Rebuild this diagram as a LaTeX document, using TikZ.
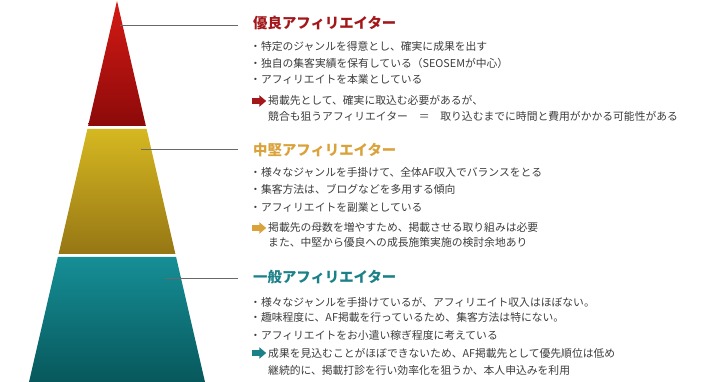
\documentclass[tikz,border=0pt]{standalone}
\usepackage{fontspec}
\newfontfamily\jpfont{Noto Sans CJK JP}
\usetikzlibrary{shapes.arrows, positioning}
\definecolor{topRed}{RGB}{212, 26, 20}
\definecolor{baseRed}{RGB}{140, 10, 10}
\definecolor{topGold}{RGB}{214, 184, 33}
\definecolor{baseGold}{RGB}{150, 118, 20}
\definecolor{topTeal}{RGB}{22, 142, 150}
\definecolor{baseTeal}{RGB}{7, 88, 92}
\definecolor{titleRed}{RGB}{163, 23, 26}
\definecolor{titleGold}{RGB}{217, 162, 58}
\definecolor{titleTeal}{RGB}{27, 129, 137}
\definecolor{bodyGray}{RGB}{60, 60, 60}
\definecolor{leaderGray}{RGB}{105, 105, 105}

\begin{document}
\begin{tikzpicture}[x=1pt, y=-1pt]
    \tikzset{
        title/.style={anchor=west, inner sep=0pt, text height=12pt, text depth=1.5pt, font=\jpfont\bfseries\fontsize{14.4}{16}\selectfont},
        item/.style={anchor=west, inner sep=0pt, text=bodyGray, text height=9pt, text depth=1pt, font=\jpfont\fontsize{10.8}{12}\selectfont},
        pointer/.style={single arrow, draw=none, anchor=west, inner xsep=0pt, inner ysep=2.6pt, minimum height=14pt, single arrow head extend=3pt, single arrow tip angle=80},
        leader/.style={draw=leaderGray, line width=0.8pt}
    }
    \useasboundingbox (0,0) rectangle (710,382);

    % pyramid
    \shade [top color=topRed, bottom color=baseRed] (117,1) -- (145.9,126) -- (88.1,126) -- cycle;
    \shade [top color=topGold, bottom color=baseGold] (87.4,129) -- (146.6,129) -- (175.4,254) -- (58.6,254) -- cycle;
    \shade [top color=topTeal, bottom color=baseTeal] (57.9,257) -- (176.1,257) -- (205,382) -- (29,382) -- cycle;

    \coordinate (redpt) at (120,25);
    \coordinate (goldpt) at (141,149);
    \coordinate (tealpt) at (165,278);
    \coordinate (redend) at (238,25);
    \coordinate (goldend) at (238,149);
    \coordinate (tealend) at (238,278);
    \draw [leader] (redpt) -- (redend);
    \draw [leader] (goldpt) -- (goldend);
    \draw [leader] (tealpt) -- (tealend);

    % top tier
    \node [title, text=titleRed] (redtitle) at (253,23) {優良アフィリエイター};
    \node [item] (red1) at (250,47) {・特定のジャンルを得意とし、確実に成果を出す};
    \node [item] (red2) at (250,64) {・独自の集客実績を保有している（SEOSEMが中心）};
    \node [item] (red3) at (250,80) {・アフィリエイトを本業としている};
    \node [pointer, fill=titleRed] (redarrow) at (252,101) {};
    \node [item] (red4) at (268,101) {掲載先として、確実に取込む必要があるが、};
    \node [item] (red5) at (268,117) {競合も狙うアフィリエイター　＝　取り込むまでに時間と費用がかかる可能性がある};

    % middle tier
    \node [title, text=titleGold] (goldtitle) at (253,150) {中堅アフィリエイター};
    \node [item] (gold1) at (250,173) {・様々なジャンルを手掛けて、全体AF収入でバランスをとる};
    \node [item] (gold2) at (250,190) {・集客方法は、ブログなどを多用する傾向};
    \node [item] (gold3) at (250,208) {・アフィリエイトを副業としている};
    \node [pointer, fill=titleGold] (goldarrow) at (252,228) {};
    \node [item] (gold4) at (268,228) {掲載先の母数を増やすため、掲載させる取り組みは必要};
    \node [item] (gold5) at (268,243) {また、中堅から優良への成長施策実施の検討余地あり};

    % bottom tier
    \node [title, text=titleTeal] (tealtitle) at (253,277) {一般アフィリエイター};
    \node [item] (teal1) at (250,302) {・様々なジャンルを手掛けているが、アフィリエイト収入はほぼない。};
    \node [item] (teal2) at (250,318) {・趣味程度に、AF掲載を行っているため、集客方法は特にない。};
    \node [item] (teal3) at (250,335) {・アフィリエイトをお小遣い稼ぎ程度に考えている};
    \node [pointer, fill=titleTeal] (tealarrow) at (252,353) {};
    \node [item] (teal4) at (268,353) {成果を見込むことがほぼできないため、AF掲載先として優先順位は低め};
    \node [item] (teal5) at (268,370) {継続的に、掲載打診を行い効率化を狙うか、本人申込みを利用};
\end{tikzpicture}
\end{document}
